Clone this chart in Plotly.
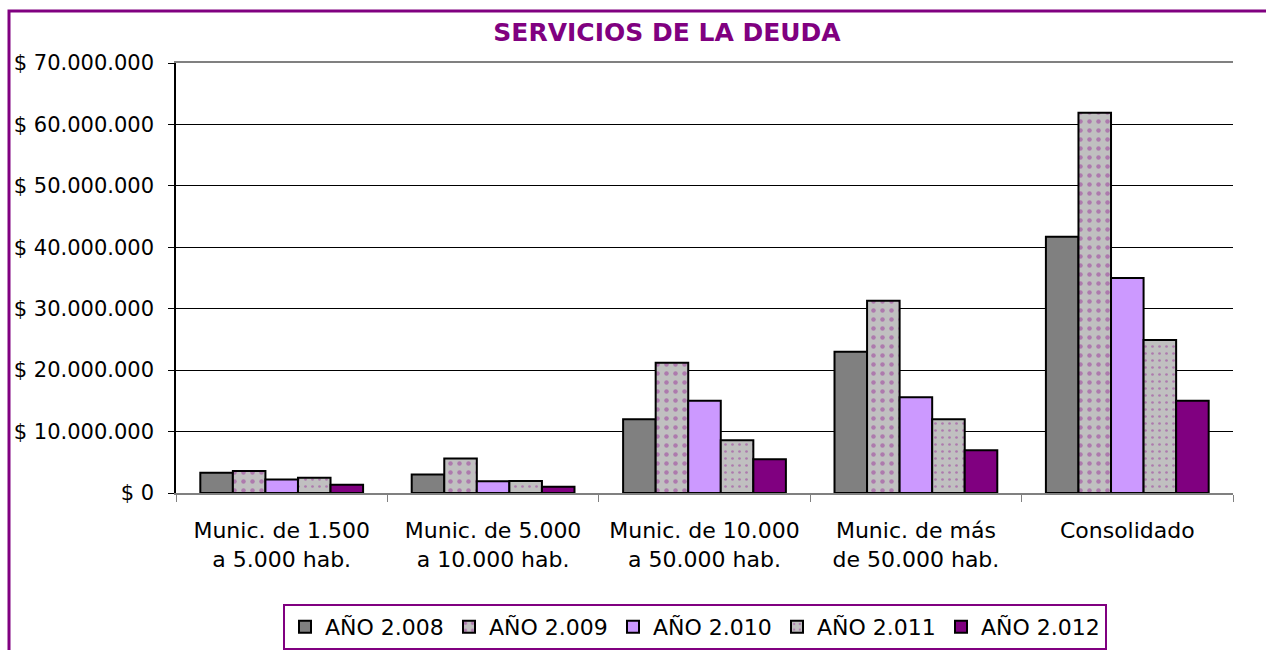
import plotly.graph_objects as go

categories = ["Munic. de 1.500<br>a 5.000 hab.", "Munic. de 5.000<br>a 10.000 hab.",
              "Munic. de 10.000<br>a 50.000 hab.", "Munic. de más<br>de 50.000 hab.", "Consolidado"]
series_names = ["AÑO 2.008", "AÑO 2.009", "AÑO 2.010", "AÑO 2.011", "AÑO 2.012"]
v2008 = [3300000, 3000000, 12000000, 23000000, 41700000]
v2009 = [3600000, 5600000, 21200000, 31300000, 61900000]
v2010 = [2200000, 1900000, 15000000, 15600000, 35000000]
v2011 = [2500000, 1950000, 8600000, 12000000, 24900000]
v2012 = [1350000, 1000000, 5500000, 6950000, 15000000]
tick_vals = [0, 10000000, 20000000, 30000000, 40000000, 50000000, 60000000, 70000000]
tick_text = ["$ 0", "$ 10.000.000", "$ 20.000.000", "$ 30.000.000", "$ 40.000.000",
             "$ 50.000.000", "$ 60.000.000", "$ 70.000.000"]

FONT = "DejaVu Sans"
PURPLE = "#800080"
styles = [
    dict(color="#808080"),
    dict(color="#C0C0C0", pattern=dict(shape=".", fgcolor="#993399", bgcolor="#C0C0C0", size=9, solidity=0.2)),
    dict(color="#CC99FF"),
    dict(color="#C0C0C0", pattern=dict(shape=".", fgcolor="#993399", bgcolor="#C0C0C0", size=7, solidity=0.12)),
    dict(color=PURPLE),
]

fig = go.Figure()
for name, vals, st in zip(series_names, [v2008, v2009, v2010, v2011, v2012], styles):
    marker = dict(line=dict(color="black", width=2), **st)
    fig.add_trace(go.Bar(name=name, x=categories, y=vals, marker=marker))

fig.update_layout(
    width=1266, height=650,
    paper_bgcolor="white", plot_bgcolor="white",
    margin=dict(l=176, r=33, t=63, b=157),
    barmode="group", bargap=0.23, bargroupgap=0,
    font=dict(family=FONT, size=21, color="black"),
    title=dict(text="<b>SERVICIOS DE LA DEUDA</b>", x=667/1266, xanchor="center",
               y=1 - 32/650, yanchor="middle", font=dict(size=25, color=PURPLE, family=FONT)),
    showlegend=True,
    legend=dict(orientation="h", xref="container", yref="container",
                x=695/1266, xanchor="center", y=1 - 627/650, yanchor="middle",
                bordercolor=PURPLE, borderwidth=2, font=dict(size=22, family=FONT),
                entrywidth=119, entrywidthmode="pixels", traceorder="normal"),
)
fig.update_xaxes(showline=True, linecolor="#808080", linewidth=2, mirror=True,
                 ticks="outside", tickson="boundaries", ticklen=7, tickcolor="#808080",
                 tickfont=dict(size=22, family=FONT), ticklabelstandoff=17, automargin=False)
fig.update_yaxes(range=[0, 70000000], tickvals=tick_vals, ticktext=tick_text,
                 showgrid=True, gridcolor="black", gridwidth=1,
                 showline=True, linecolor="black", linewidth=1.5,
                 ticks="outside", ticklen=6, tickcolor="black",
                 tickfont=dict(size=21, family=FONT), zeroline=False,
                 ticklabelstandoff=10, automargin=False)
# outer purple frame (extends past right/bottom edges of the picture)
fig.add_shape(type="rect", xref="paper", yref="paper",
              x0=(9 - 176) / 1057, x1=(1290 - 176) / 1057,
              y0=(493 - 670) / 430, y1=(493 - 11) / 430,
              line=dict(color=PURPLE, width=3), layer="above")
fig.write_html("out.html", config={"displayModeBar": False},
               post_script="document.body.style.margin='0';")
